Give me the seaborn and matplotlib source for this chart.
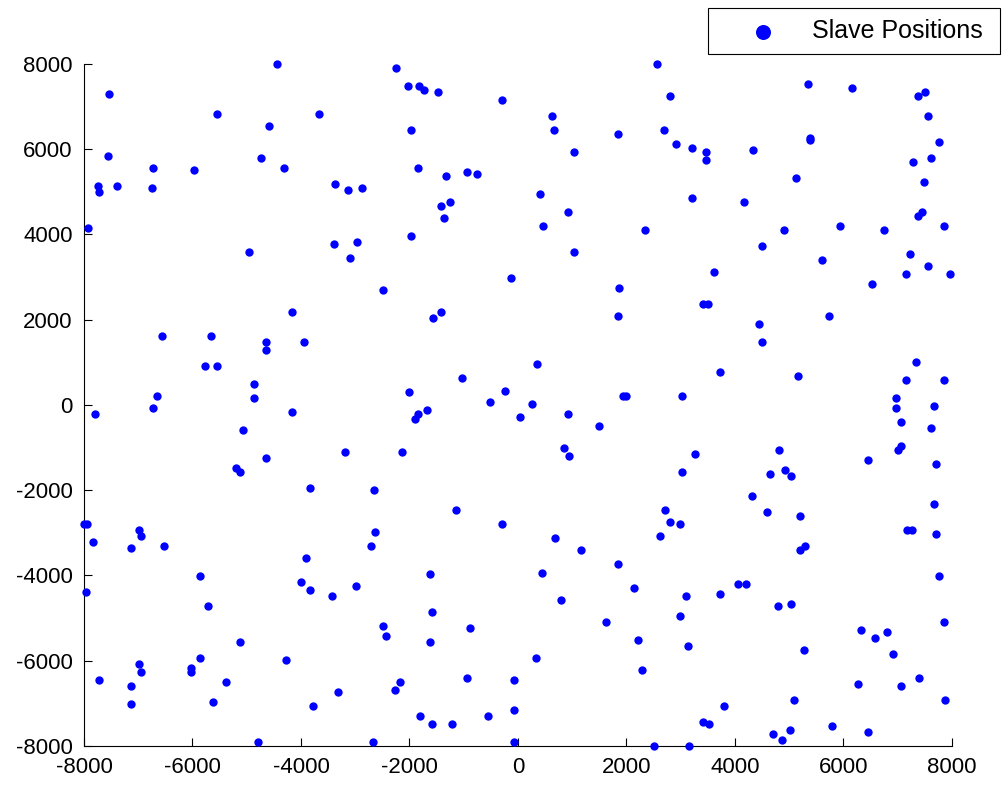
import matplotlib
matplotlib.use("Agg")
import matplotlib.pyplot as plt
import seaborn as sns
import pandas as pd

# slave positions (x, y)
x_pos = [
    -4440, -7530, -5540, -3660, -4580, -7560, -4730, -6720, -4320, -5980, -7750,
    -7720, -7390, -6750, -3370, -3140, -2880, -7930, -4950, -3400, -2960, -3100,
    -2250, -2030, -1820, -1740, -1480, -300, 2570, 620, -1970, 660, 1840, 1030,
    -1850, -1330, -930, -750, 400, -1410, -1260, -1360, 920, 470, 2350, -1970,
    1030, -120,
    2800, 5340, 6150, 7370, 7510, 7550, 2690, 2910, 3200, 3460, 3460, 4340, 5380,
    5380, 7770, 7290, 7620, 7480, 5120, 3200, 4160, 7440, 7370, 4900, 5930, 6740,
    7850, 4490, 5600, 7220, 3610, 7150, 7550, 7960, 6520,
    -4170, -6570, -5650, -4650, -4650, -3950, -5760, -5540, -4870, -4870, -6650,
    -6720, -7790, -4170, -5060, -4650, -5200, -5130, -3180, -3840, -2660,
    -2480, 1870, -1410, -1560, 1840, 360, -1040, -2000, -230, -520, 250, 30,
    -1670, -1850, -1890, 920, 1940, 1990, 1500, -2140, 840, 950, -1150, 2710,
    3420, 3500, 5740, 4450, 4490, 7330, 3720, 5160, 7150, 7850, 3020, 6960, 6960,
    7660, 7070, 7620, 7070, 7000, 4820, 3270, 3020, 4930, 5040, 4640, 6450, 7700,
    4310, 4600, 5190, 7660,
    -8000, -7950, -7830, -6980, -6940, -7130, -6530, -7970, -5870, -5720, -3910,
    -3990, -3840, -3430, -2990, -2700, -2640, -5130, -5870, -6020, -6020, -5390,
    -5620, -6980, -6940, -7720, -7130, -7130, -4280, -3320, -3770, -4800, -2670,
    -300, 690, 1170, 2610, -1630, 440, 1840, 2130, 800, -1590, -2480, -2440, -890,
    -1630, 1620, 2210, 2280, 330, -2180, -2260, -930, -80, -80, -1810, -1590,
    -1220, -560, -80, 2500,
    2800, 2980, 7180, 7260, 7700, 5190, 5300, 7770, 4050, 4200, 3720, 3090, 2980,
    3130, 4790, 5040, 5270, 7850, 6330, 6590, 6810, 6920, 6260, 7070, 7400, 7880,
    3790, 3420, 3530, 5080, 4710, 4860, 5010, 5780, 6450, 3160,
]
y_pos = [
    8000, 7300, 6830, 6830, 6540, 5840, 5800, 5560, 5560, 5510, 5140,
    5000, 5140, 5090, 5180, 5040, 5090, 4150, 3590, 3780, 3820, 3450,
    7900, 7480, 7480, 7380, 7340, 7160, 8000, 6770, 6450, 6450, 6350, 5940,
    5560, 5370, 5470, 5420, 4950, 4670, 4760, 4380, 4530, 4200, 4110, 3960,
    3590, 2980,
    7250, 7530, 7440, 7250, 7340, 6770, 6450, 6120, 6030, 5940, 5750, 5980, 6260,
    6210, 6170, 5700, 5800, 5230, 5330, 4860, 4760, 4530, 4430, 4110, 4200, 4110,
    4200, 3730, 3400, 3540, 3120, 3070, 3260, 3070, 2840,
    2180, 1620, 1620, 1470, 1280, 1470, 920, 920, 490, 170, 210,
    -70, -210, -160, -590, -1240, -1480, -1580, -1100, -1950, -1990,
    2690, 2740, 2180, 2030, 2080, 950, 630, 300, 340, 60, 20, -270,
    -120, -220, -320, -220, 200, 200, -500, -1110, -1020, -1200, -2470, -2470,
    2360, 2360, 2080, 1890, 1470, 1000, 770, 670, 580, 580, 200, 160, -80,
    -30, -410, -550, -970, -1060, -1060, -1160, -1580, -1530, -1670, -1630, -1300, -1390,
    -2140, -2520, -2610, -2330,
    -2790, -2790, -3210, -2930, -3070, -3350, -3310, -4390, -4010, -4720, -3590,
    -4150, -4340, -4480, -4250, -3310, -2980, -5560, -5940, -6170, -6260, -6500,
    -6970, -6080, -6260, -6450, -6590, -7010, -5980, -6730, -7060, -7910, -7910,
    -2790, -3120, -3400, -3070, -3960, -3930, -3740, -4300, -4580, -4860, -5190, -5430, -5240,
    -5570, -5100, -5520, -6220, -5940, -6510, -6690, -6410, -6460, -7160, -7300, -7490,
    -7490, -7300, -7910, -8000,
    -2750, -2800, -2930, -2930, -3030, -3400, -3310, -4010, -4200, -4200, -4430, -4480, -4950,
    -5650, -4720, -4670, -5750, -5090, -5280, -5470, -5330, -5840, -6550, -6590, -6400, -6920,
    -7060, -7440, -7480, -6920, -7720, -7860, -7620, -7530, -7670, -8000,
]
legend_label = "Slave Positions"
ticks = [-8000, -6000, -4000, -2000, 0, 2000, 4000, 6000, 8000]

df = pd.DataFrame({"x": x_pos, "y": y_pos})

sns.set_style("white")
plt.rcParams["font.family"] = ["Liberation Sans", "DejaVu Sans"]
plt.rcParams["axes.unicode_minus"] = False
plt.rcParams["text.color"] = "black"

fig = plt.figure(figsize=(10.03, 7.89), dpi=100)
ax = fig.add_axes([0.0837, 0.0545, 0.8654, 0.8644])

sns.scatterplot(data=df, x="x", y="y", color="#0000ff", s=36, linewidth=0,
                label=legend_label, ax=ax, clip_on=False, zorder=3)

ax.set_xlim(-8000, 8000)
ax.set_ylim(-8000, 8000)
ax.set_xticks(ticks)
ax.set_yticks(ticks)
ax.set_xlabel("")
ax.set_ylabel("")
ax.tick_params(direction="in", length=6, width=0.8, labelsize=16, colors="black",
               bottom=True, left=True, top=False, right=False)
ax.tick_params(axis="x", pad=8)
ax.tick_params(axis="y", pad=8)
for side in ["top", "right"]:
    ax.spines[side].set_visible(False)
for side in ["left", "bottom"]:
    ax.spines[side].set_color("black")
    ax.spines[side].set_linewidth(0.8)

# legend box sits above the axes, top right of the figure
leg = ax.legend(loc="upper left", bbox_to_anchor=(0.7059, 0.933, 0.2911, 0.057),
                bbox_transform=fig.transFigure, mode="expand", fontsize=18,
                frameon=True, fancybox=False, edgecolor="black", framealpha=1,
                handlelength=3.5, handletextpad=0.2, borderpad=0.45,
                markerscale=1.8, borderaxespad=0)
leg.get_frame().set_linewidth(0.8)
for txt in leg.get_texts():
    txt.set_color("black")

fig.savefig("out.png", dpi=100)
